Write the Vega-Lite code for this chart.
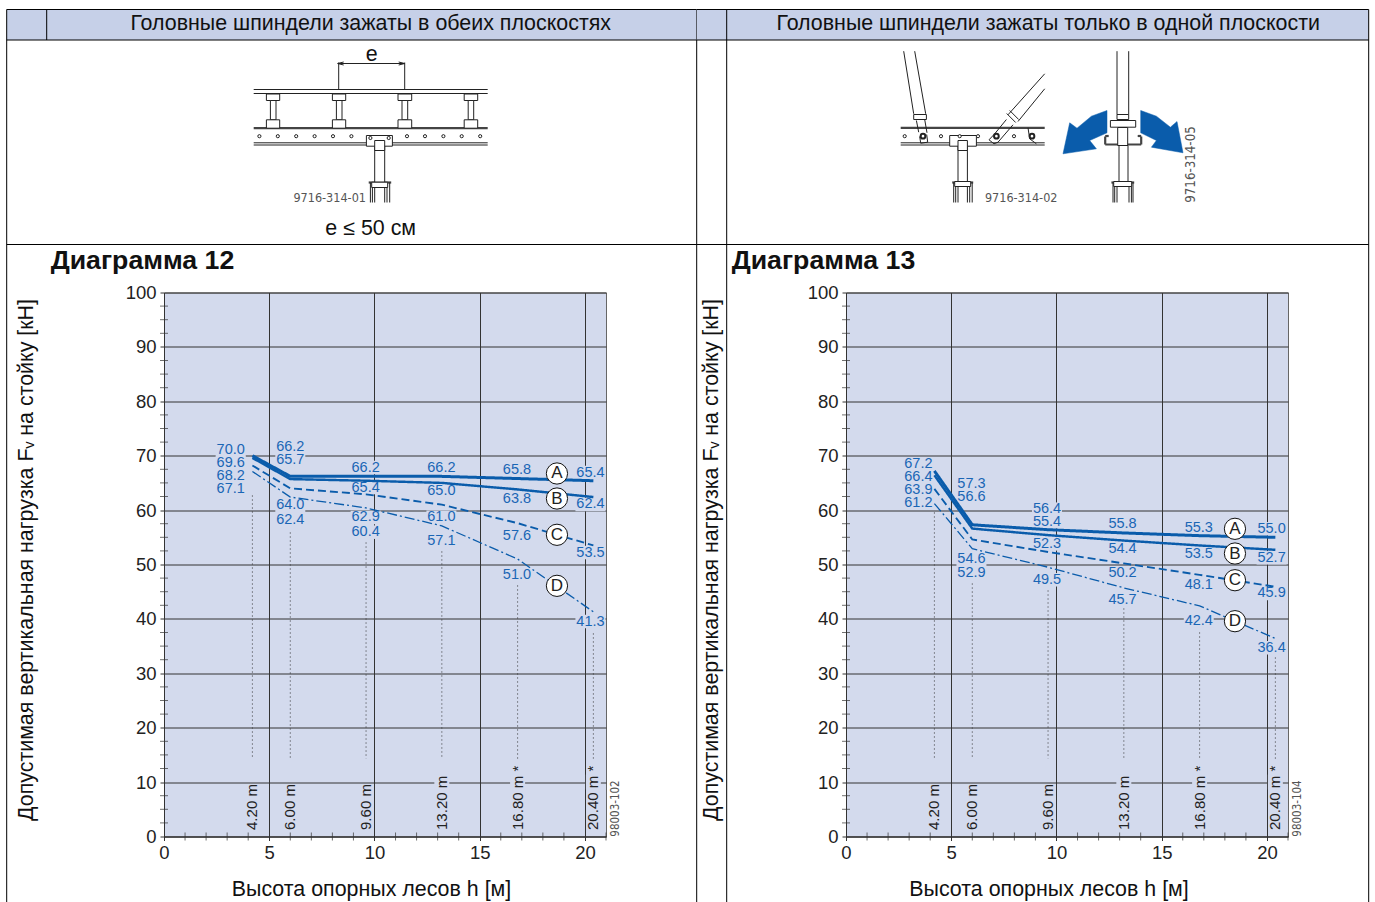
{
"$schema":"https://vega.github.io/schema/vega-lite/v6.json",
"background":"white",
"padding":{"left":5,"top":8.5,"right":0,"bottom":0},
"bounds":"flush","spacing":240,
"config":{"font":"Liberation Sans","text":{"font":"Liberation Sans"},"style":{"guide-label":{"font":"Liberation Sans"},"guide-title":{"font":"Liberation Sans"}}},
"datasets":{
"xticks":[{"h":1,"F":0},{"h":2,"F":0},{"h":3,"F":0},{"h":4,"F":0},{"h":6,"F":0},{"h":7,"F":0},{"h":8,"F":0},{"h":9,"F":0},{"h":11,"F":0},{"h":12,"F":0},{"h":13,"F":0},{"h":14,"F":0},{"h":16,"F":0},{"h":17,"F":0},{"h":18,"F":0},{"h":19,"F":0},{"h":21,"F":0}],
"yticks":[{"h":0,"F":2.5},{"h":0,"F":5},{"h":0,"F":7.5},{"h":0,"F":12.5},{"h":0,"F":15},{"h":0,"F":17.5},{"h":0,"F":22.5},{"h":0,"F":25},{"h":0,"F":27.5},{"h":0,"F":32.5},{"h":0,"F":35},{"h":0,"F":37.5},{"h":0,"F":42.5},{"h":0,"F":45},{"h":0,"F":47.5},{"h":0,"F":52.5},{"h":0,"F":55},{"h":0,"F":57.5},{"h":0,"F":62.5},{"h":0,"F":65},{"h":0,"F":67.5},{"h":0,"F":72.5},{"h":0,"F":75},{"h":0,"F":77.5},{"h":0,"F":82.5},{"h":0,"F":85},{"h":0,"F":87.5},{"h":0,"F":92.5},{"h":0,"F":95},{"h":0,"F":97.5}],
"heights":[{"h":4.2,"F":1.2,"label":"4.20 m"},{"h":6,"F":1.2,"label":"6.00 m"},{"h":9.6,"F":1.2,"label":"9.60 m"},{"h":13.2,"F":1.2,"label":"13.20 m"},{"h":16.8,"F":1.2,"label":"16.80 m\u00a0*"},{"h":20.4,"F":1.2,"label":"20.40 m\u00a0*"}],
"gaps":[{"h":13.2,"F":10},{"h":16.8,"F":10},{"h":20.4,"F":10}],
"curves12":[
{"curve":"A","h":4.2,"F":70.0},{"curve":"A","h":6,"F":66.2},{"curve":"A","h":9.6,"F":66.2},{"curve":"A","h":13.2,"F":66.2},{"curve":"A","h":16.8,"F":65.8},{"curve":"A","h":20.4,"F":65.4},
{"curve":"B","h":4.2,"F":69.6},{"curve":"B","h":6,"F":65.7},{"curve":"B","h":9.6,"F":65.4},{"curve":"B","h":13.2,"F":65.0},{"curve":"B","h":16.8,"F":63.8},{"curve":"B","h":20.4,"F":62.4},
{"curve":"C","h":4.2,"F":68.2},{"curve":"C","h":6,"F":64.0},{"curve":"C","h":9.6,"F":62.9},{"curve":"C","h":13.2,"F":61.0},{"curve":"C","h":16.8,"F":57.6},{"curve":"C","h":20.4,"F":53.5},
{"curve":"D","h":4.2,"F":67.1},{"curve":"D","h":6,"F":62.4},{"curve":"D","h":9.6,"F":60.4},{"curve":"D","h":13.2,"F":57.1},{"curve":"D","h":16.8,"F":51.0},{"curve":"D","h":20.4,"F":41.3}],
"curves13":[
{"curve":"A","h":4.2,"F":67.2},{"curve":"A","h":6,"F":57.3},{"curve":"A","h":9.6,"F":56.4},{"curve":"A","h":13.2,"F":55.8},{"curve":"A","h":16.8,"F":55.3},{"curve":"A","h":20.4,"F":55.0},
{"curve":"B","h":4.2,"F":66.4},{"curve":"B","h":6,"F":56.6},{"curve":"B","h":9.6,"F":55.4},{"curve":"B","h":13.2,"F":54.4},{"curve":"B","h":16.8,"F":53.5},{"curve":"B","h":20.4,"F":52.7},
{"curve":"C","h":4.2,"F":63.9},{"curve":"C","h":6,"F":54.6},{"curve":"C","h":9.6,"F":52.3},{"curve":"C","h":13.2,"F":50.2},{"curve":"C","h":16.8,"F":48.1},{"curve":"C","h":20.4,"F":45.9},
{"curve":"D","h":4.2,"F":61.2},{"curve":"D","h":6,"F":52.9},{"curve":"D","h":9.6,"F":49.5},{"curve":"D","h":13.2,"F":45.7},{"curve":"D","h":16.8,"F":42.4},{"curve":"D","h":20.4,"F":36.4}],
"labels12":[
{"h":3.17,"F":71.08,"label":"70.0"},{"h":3.17,"F":68.75,"label":"69.6"},{"h":3.17,"F":66.36,"label":"68.2"},{"h":3.17,"F":63.97,"label":"67.1"},
{"h":6,"F":71.69,"label":"66.2"},{"h":6,"F":69.3,"label":"65.7"},{"h":6,"F":60.85,"label":"64.0"},{"h":6,"F":58.27,"label":"62.4"},
{"h":9.58,"F":67.83,"label":"66.2"},{"h":9.58,"F":64.15,"label":"65.4"},{"h":9.58,"F":58.64,"label":"62.9"},{"h":9.58,"F":55.94,"label":"60.4"},
{"h":13.18,"F":67.83,"label":"66.2"},{"h":13.18,"F":63.42,"label":"65.0"},{"h":13.18,"F":58.69,"label":"61.0"},{"h":13.18,"F":54.41,"label":"57.1"},
{"h":16.77,"F":67.46,"label":"65.8"},{"h":16.77,"F":62.13,"label":"63.8"},{"h":16.77,"F":55.15,"label":"57.6"},{"h":16.77,"F":47.98,"label":"51.0"},
{"h":20.26,"F":66.91,"label":"65.4"},{"h":20.26,"F":61.03,"label":"62.4"},{"h":20.26,"F":52.2,"label":"53.5"},{"h":20.26,"F":39.52,"label":"41.3"}],
"labels13":[
{"h":3.44,"F":68.51,"label":"67.2"},{"h":3.44,"F":66.12,"label":"66.4"},{"h":3.44,"F":63.73,"label":"63.9"},{"h":3.44,"F":61.34,"label":"61.2"},
{"h":5.96,"F":64.83,"label":"57.3"},{"h":5.96,"F":62.44,"label":"56.6"},{"h":5.96,"F":50.92,"label":"54.6"},{"h":5.96,"F":48.47,"label":"52.9"},
{"h":9.55,"F":60.17,"label":"56.4"},{"h":9.55,"F":57.85,"label":"55.4"},{"h":9.55,"F":53.8,"label":"52.3"},{"h":9.55,"F":47.19,"label":"49.5"},
{"h":13.14,"F":57.48,"label":"55.8"},{"h":13.14,"F":52.89,"label":"54.4"},{"h":13.14,"F":48.47,"label":"50.2"},{"h":13.14,"F":43.44,"label":"45.7"},
{"h":16.76,"F":56.75,"label":"55.3"},{"h":16.76,"F":51.84,"label":"53.5"},{"h":16.76,"F":46.27,"label":"48.1"},{"h":16.76,"F":39.65,"label":"42.4"},
{"h":20.22,"F":56.56,"label":"55.0"},{"h":20.22,"F":51.23,"label":"52.7"},{"h":20.22,"F":44.67,"label":"45.9"},{"h":20.22,"F":34.69,"label":"36.4"}],
"dots12":[{"h":4.2,"F":62.68,"F2":14.3},{"h":6,"F":55.88,"F2":14.3},{"h":9.6,"F":54.04,"F2":14.3},{"h":13.2,"F":52.39,"F2":14.3},{"h":16.8,"F":46.14,"F2":14.3},{"h":20.4,"F":37.32,"F2":14.3}],
"dots13":[{"h":4.2,"F":59.56,"F2":14.3},{"h":6,"F":46.5,"F2":14.3},{"h":9.6,"F":45.22,"F2":14.3},{"h":13.2,"F":41.91,"F2":14.3},{"h":16.8,"F":37.5,"F2":14.3},{"h":20.4,"F":32.9,"F2":14.3}],
"keys12":[{"h":18.67,"F":66.73,"label":"A"},{"h":18.67,"F":62.13,"label":"B"},{"h":18.67,"F":55.46,"label":"C"},{"h":18.67,"F":46.08,"label":"D"}],
"keys13":[{"h":18.48,"F":56.56,"label":"A"},{"h":18.48,"F":52.02,"label":"B"},{"h":18.48,"F":47.11,"label":"C"},{"h":18.48,"F":39.58,"label":"D"}],
"headL":[{"sx":7,"sy":9,"sx2":697,"sy2":39.5}],
"headR":[{"sx":697,"sy":9,"sx2":1369,"sy2":39.5}],
"frameL":[{"sx":7,"sy":9,"sx2":697,"sy2":9},{"sx":7,"sy":39.5,"sx2":697,"sy2":39.5},{"sx":7,"sy":244,"sx2":697,"sy2":244},{"sx":7,"sy":9,"sx2":7,"sy2":902},{"sx":47,"sy":9,"sx2":47,"sy2":39.5},{"sx":697,"sy":9,"sx2":697,"sy2":902}],
"frameR":[{"sx":697,"sy":9,"sx2":1369,"sy2":9},{"sx":697,"sy":39.5,"sx2":1369,"sy2":39.5},{"sx":697,"sy":244,"sx2":1369,"sy2":244},{"sx":727,"sy":9,"sx2":727,"sy2":902},{"sx":1369,"sy":9,"sx2":1369,"sy2":902}],
"skL":[
{"sx":338,"sy":63,"sx2":405,"sy2":63},{"sx":339,"sy":62,"sx2":339,"sy2":89},{"sx":405,"sy":62,"sx2":405,"sy2":89},{"sx":338,"sy":63,"sx2":344,"sy2":61.5},{"sx":338,"sy":63,"sx2":344,"sy2":64.5},{"sx":405,"sy":63,"sx2":399,"sy2":61.5},{"sx":405,"sy":63,"sx2":399,"sy2":64.5},
{"sx":254,"sy":89,"sx2":488,"sy2":89},{"sx":254,"sy":93,"sx2":488,"sy2":93},{"sx":254,"sy":142.3,"sx2":488,"sy2":142.3},{"sx":254,"sy":144.5,"sx2":488,"sy2":144.5},
{"sx":370.7,"sy":182,"sx2":370.7,"sy2":202},{"sx":372.7,"sy":182,"sx2":372.7,"sy2":202},{"sx":375,"sy":182,"sx2":375,"sy2":202},{"sx":385,"sy":182,"sx2":385,"sy2":202},{"sx":387.3,"sy":182,"sx2":387.3,"sy2":202},{"sx":390,"sy":182,"sx2":390,"sy2":202}],
"thickL":[{"sx":254,"sy":127.7,"sx2":488,"sy2":127.7},{"sx":369,"sy":182,"sx2":391.5,"sy2":182}],
"rectL":[
{"sx":266.7,"sy":93.5,"sx2":280,"sy2":100},{"sx":270.7,"sy":100,"sx2":276.3,"sy2":119.3},{"sx":266.7,"sy":119.3,"sx2":280,"sy2":127.7},
{"sx":332.7,"sy":93.5,"sx2":346,"sy2":100},{"sx":336.7,"sy":100,"sx2":342.3,"sy2":119.3},{"sx":332.7,"sy":119.3,"sx2":346,"sy2":127.7},
{"sx":398.3,"sy":93.5,"sx2":412,"sy2":100},{"sx":402.3,"sy":100,"sx2":408,"sy2":119.3},{"sx":398.3,"sy":119.3,"sx2":412,"sy2":127.7},
{"sx":464.5,"sy":93.5,"sx2":478,"sy2":100},{"sx":468.5,"sy":100,"sx2":474,"sy2":119.3},{"sx":464.5,"sy":119.3,"sx2":478,"sy2":127.7},
{"sx":366.7,"sy":135,"sx2":392.7,"sy2":145.7},{"sx":375,"sy":145.7,"sx2":385,"sy2":181.7},{"sx":375,"sy":140,"sx2":385,"sy2":150},{"sx":372,"sy":181.7,"sx2":388,"sy2":187}],
"holesL":[{"sx":259.7,"sy":135.7},{"sx":278.1,"sy":135.7},{"sx":296.5,"sy":135.7},{"sx":314.9,"sy":135.7},{"sx":333.3,"sy":135.7},{"sx":351.7,"sy":135.7},{"sx":370.7,"sy":137.5},{"sx":389,"sy":137.5},{"sx":407.3,"sy":135.7},{"sx":425.3,"sy":135.7},{"sx":443.7,"sy":135.7},{"sx":462,"sy":135.7},{"sx":480.5,"sy":135.7}],
"headTextL":[{"sx":371,"sy":23.5,"label":"Головные шпиндели зажаты в обеих плоскостях"},{"sx":371,"sy":228,"label":"e ≤ 50 см"},{"sx":372,"sy":54,"label":"e"}],
"headTextR":[{"sx":1048.5,"sy":23.5,"label":"Головные шпиндели зажаты только в одной плоскости"}],
"titleL":[{"sx":51,"sy":260,"label":"Диаграмма 12"}],
"titleR":[{"sx":732,"sy":260,"label":"Диаграмма 13"}],
"idL":[{"sx":330,"sy":197,"label":"9716-314-01"}],
"idR":[{"sx":1021.5,"sy":197,"label":"9716-314-02"}],
"vidL":[{"sx":616.5,"sy":808,"label":"98003-102"}],
"vidR":[{"sx":1298,"sy":808,"label":"98003-104"}],
"vidS":[{"sx":1191,"sy":164,"label":"9716-314-05"}],
"skR":[
{"sx":904,"sy":50.7,"sx2":914,"sy2":113.3},{"sx":915,"sy":50.7,"sx2":926,"sy2":113.3},{"sx":916.7,"sy":120,"sx2":919,"sy2":131.7},{"sx":925,"sy":119,"sx2":927.3,"sy2":132.3},{"sx":920,"sy":136,"sx2":921,"sy2":142.7},{"sx":921,"sy":142.7,"sx2":928,"sy2":141.7},{"sx":928,"sy":141.7,"sx2":927,"sy2":134},
{"sx":901,"sy":142.3,"sx2":1045,"sy2":142.3},{"sx":901,"sy":144.5,"sx2":1045,"sy2":144.5},
{"sx":1045,"sy":73.3,"sx2":1008.3,"sy2":114.3},{"sx":1045,"sy":88.3,"sx2":1018.3,"sy2":121},{"sx":1006.7,"sy":119,"sx2":995,"sy2":133.3},{"sx":1013.3,"sy":124.3,"sx2":998.3,"sy2":141.7},{"sx":989.3,"sy":139.3,"sx2":994.3,"sy2":143.3},{"sx":994.3,"sy":143.3,"sx2":998.3,"sy2":141.7},{"sx":989.3,"sy":139.3,"sx2":995,"sy2":133.3},{"sx":1007,"sy":113,"sx2":1016,"sy2":122},{"sx":1010,"sy":110,"sx2":1019,"sy2":119},
{"sx":1028.3,"sy":127.3,"sx2":1030,"sy2":138.3},{"sx":1030,"sy":138.3,"sx2":1036.7,"sy2":143.3},
{"sx":954,"sy":182,"sx2":954,"sy2":202},{"sx":956,"sy":182,"sx2":956,"sy2":202},{"sx":958.3,"sy":182,"sx2":958.3,"sy2":202},{"sx":967.7,"sy":182,"sx2":967.7,"sy2":202},{"sx":970,"sy":182,"sx2":970,"sy2":202},{"sx":972.5,"sy":182,"sx2":972.5,"sy2":202},
{"sx":1117.3,"sy":50.7,"sx2":1117.3,"sy2":114},{"sx":1129,"sy":50.7,"sx2":1129,"sy2":114},
{"sx":1113.3,"sy":182,"sx2":1113.3,"sy2":202},{"sx":1115,"sy":182,"sx2":1115,"sy2":202},{"sx":1117.3,"sy":182,"sx2":1117.3,"sy2":202},{"sx":1129.3,"sy":182,"sx2":1129.3,"sy2":202},{"sx":1131.7,"sy":182,"sx2":1131.7,"sy2":202},{"sx":1133.3,"sy":182,"sx2":1133.3,"sy2":202}],
"thickR":[{"sx":901,"sy":127.3,"sx2":1045,"sy2":127.3},{"sx":952.5,"sy":182,"sx2":973.5,"sy2":182},{"sx":1111.7,"sy":182,"sx2":1134.5,"sy2":182},{"sx":1105.5,"sy":136,"sx2":1105.5,"sy2":144},{"sx":1105.5,"sy":144,"sx2":1141.5,"sy2":144},{"sx":1141.5,"sy":136,"sx2":1141.5,"sy2":144},{"sx":1109,"sy":135.5,"sx2":1105.5,"sy2":135.5},{"sx":1138,"sy":135.5,"sx2":1141.5,"sy2":135.5}],
"rectR":[
{"sx":914,"sy":114,"sx2":926.7,"sy2":119},
{"sx":950,"sy":135,"sx2":976.7,"sy2":145.7},{"sx":958.3,"sy":145.7,"sx2":967.7,"sy2":181},{"sx":958.3,"sy":140,"sx2":967.7,"sy2":150},{"sx":955,"sy":181,"sx2":971,"sy2":186},
{"sx":1117.3,"sy":114,"sx2":1129,"sy2":119},{"sx":1110.7,"sy":120,"sx2":1136,"sy2":126.7},{"sx":1118,"sy":127,"sx2":1128,"sy2":145},{"sx":1119.3,"sy":145,"sx2":1128.3,"sy2":181},{"sx":1114,"sy":181,"sx2":1132,"sy2":186}],
"holesR":[{"sx":905,"sy":135.7},{"sx":941.3,"sy":135.7},{"sx":960,"sy":135.7},{"sx":978.3,"sy":135.7},{"sx":1014.3,"sy":135.7}],
"bigHolesR":[{"sx":923.3,"sy":135.7},{"sx":996.7,"sy":135.7},{"sx":1032.3,"sy":135.7}],
"arrowsR":[
{"a":"L","i":1,"sx":1107.3,"sy":110},{"a":"L","i":2,"sx":1091.7,"sy":115.7},{"a":"L","i":3,"sx":1077.3,"sy":127.7},{"a":"L","i":4,"sx":1070,"sy":122.3},{"a":"L","i":5,"sx":1063.3,"sy":153.3},{"a":"L","i":6,"sx":1096.7,"sy":148.3},{"a":"L","i":7,"sx":1090,"sy":140},{"a":"L","i":8,"sx":1107.3,"sy":132.3},{"a":"L","i":9,"sx":1107.3,"sy":110},
{"a":"R","i":1,"sx":1141,"sy":110},{"a":"R","i":2,"sx":1156.7,"sy":115.7},{"a":"R","i":3,"sx":1170.7,"sy":126.7},{"a":"R","i":4,"sx":1177.3,"sy":121},{"a":"R","i":5,"sx":1183.3,"sy":152.3},{"a":"R","i":6,"sx":1151.7,"sy":146.7},{"a":"R","i":7,"sx":1156.7,"sy":140},{"a":"R","i":8,"sx":1141,"sy":132.3},{"a":"R","i":9,"sx":1141,"sy":110}]
},
"hconcat":[
{"width":442,"height":544,"view":{"fill":"#d3daed","stroke":"#666666"},
"resolve":{"scale":{"x":"independent","y":"independent"}},
"layer":[
{"encoding":{
"x":{"field":"h","type":"quantitative","scale":{"domain":[0,21],"nice":false,"zero":false},"axis":{"values":[0,5,10,15,20],"grid":true,"gridColor":"#333333","gridWidth":1,"domainColor":"#333333","tickColor":"#333333","tickSize":4,"labelFontSize":18.5,"labelColor":"#222222","labelPadding":3,"labelFlush":false,"labelOverlap":false,"title":"Высота опорных лесов h [м]","titleFontSize":21.4,"titleFontWeight":"normal","titleColor":"#111111","titleX":207,"titleY":53,"titleBaseline":"middle"}},
"y":{"field":"F","type":"quantitative","scale":{"domain":[0,100],"nice":false,"zero":false},"axis":{"values":[0,10,20,30,40,50,60,70,80,90,100],"grid":true,"gridColor":"#333333","gridWidth":1,"domainColor":"#333333","tickColor":"#333333","tickSize":4,"labelFontSize":18.5,"labelColor":"#222222","labelPadding":4,"labelOverlap":false,"labelFlush":false,"title":"Допустимая вертикальная нагрузка Fᵥ на стойку [кН]","titleFontSize":21.4,"titleFontWeight":"normal","titleColor":"#111111","titleX":-138,"titleY":267,"titleBaseline":"middle","titleAngle":-90}}},
"layer":[
{"data":{"name":"xticks"},"mark":{"type":"tick","orient":"vertical","size":8,"thickness":1,"color":"#333333"}},
{"data":{"name":"yticks"},"mark":{"type":"tick","orient":"horizontal","size":8,"thickness":1,"color":"#333333"}},
{"data":{"name":"dots12"},"mark":{"type":"rule","color":"#333333","strokeWidth":1,"strokeDash":[1,3]},"encoding":{"y2":{"field":"F2"}}},
{"data":{"name":"labels12"},"mark":{"type":"point","shape":"M-1,-0.45H1V0.45H-1Z","filled":true,"fill":"#d3daed","stroke":null,"size":900,"opacity":1}},
{"data":{"name":"gaps"},"mark":{"type":"point","shape":"square","filled":true,"fill":"#d3daed","stroke":null,"size":225,"opacity":1}},
{"data":{"name":"curves12"},"mark":{"type":"line","color":"#0a5cab"},"encoding":{"detail":{"field":"curve"},"strokeWidth":{"field":"curve","scale":{"domain":["A","B","C","D"],"range":[3,1.3,1.2,1.1]},"legend":null},"strokeDash":{"field":"curve","scale":{"domain":["A","B","C","D"],"range":[[1,0],[1,0],[8,4],[10,3,2,3]]},"legend":null}}},
{"data":{"name":"labels12"},"mark":{"type":"text","fontSize":14.5,"color":"#1a66b5","baseline":"middle"},"encoding":{"text":{"field":"label"}}},
{"data":{"name":"heights"},"mark":{"type":"text","fontSize":15,"angle":270,"align":"left","baseline":"middle","color":"#222222"},"encoding":{"text":{"field":"label"}}},
{"data":{"name":"keys12"},"mark":{"type":"point","shape":"circle","filled":true,"fill":"white","stroke":"#111111","strokeWidth":1,"size":452,"opacity":1}},
{"data":{"name":"keys12"},"mark":{"type":"text","fontSize":17,"color":"#222222","baseline":"middle"},"encoding":{"text":{"field":"label"}}}
]},
{"encoding":{
"x":{"field":"sx","type":"quantitative","scale":{"domain":[0,1375],"range":[-164.3,1210.7],"nice":false,"zero":false},"axis":null},
"y":{"field":"sy","type":"quantitative","scale":{"domain":[0,902],"range":[-292,610],"nice":false,"zero":false},"axis":null}},
"layer":[
{"data":{"name":"headL"},"mark":{"type":"rect","fill":"#c6d0e8"},"encoding":{"x2":{"field":"sx2"},"y2":{"field":"sy2"}}},
{"data":{"name":"frameL"},"mark":{"type":"rule","color":"#000000","strokeWidth":1},"encoding":{"x2":{"field":"sx2"},"y2":{"field":"sy2"}}},
{"data":{"name":"thickL"},"mark":{"type":"rule","color":"#444444","strokeWidth":2.2},"encoding":{"x2":{"field":"sx2"},"y2":{"field":"sy2"}}},
{"data":{"name":"skL"},"mark":{"type":"rule","color":"#222222","strokeWidth":1},"encoding":{"x2":{"field":"sx2"},"y2":{"field":"sy2"}}},
{"data":{"name":"rectL"},"mark":{"type":"rect","fill":"white","stroke":"#222222","strokeWidth":1},"encoding":{"x2":{"field":"sx2"},"y2":{"field":"sy2"}}},
{"data":{"name":"holesL"},"mark":{"type":"point","shape":"circle","fill":"white","stroke":"#222222","strokeWidth":1,"size":10,"opacity":1}},
{"data":{"name":"headTextL"},"mark":{"type":"text","fontSize":21.4,"color":"#111111","baseline":"middle"},"encoding":{"text":{"field":"label"}}},
{"data":{"name":"titleL"},"mark":{"type":"text","fontSize":26.7,"fontWeight":"bold","color":"#111111","align":"left","baseline":"middle"},"encoding":{"text":{"field":"label"}}},
{"data":{"name":"idL"},"mark":{"type":"text","fontSize":12.5,"font":"DejaVu Sans Condensed, Liberation Sans","color":"#555555","baseline":"middle"},"encoding":{"text":{"field":"label"}}},
{"data":{"name":"vidL"},"mark":{"type":"text","fontSize":11.5,"font":"DejaVu Sans Condensed, Liberation Sans","color":"#555555","angle":270,"baseline":"middle"},"encoding":{"text":{"field":"label"}}}
]}
]},
{"width":442,"height":544,"view":{"fill":"#d3daed","stroke":"#666666"},
"resolve":{"scale":{"x":"independent","y":"independent"}},
"layer":[
{"encoding":{
"x":{"field":"h","type":"quantitative","scale":{"domain":[0,21],"nice":false,"zero":false},"axis":{"values":[0,5,10,15,20],"grid":true,"gridColor":"#333333","gridWidth":1,"domainColor":"#333333","tickColor":"#333333","tickSize":4,"labelFontSize":18.5,"labelColor":"#222222","labelPadding":3,"labelFlush":false,"labelOverlap":false,"title":"Высота опорных лесов h [м]","titleFontSize":21.4,"titleFontWeight":"normal","titleColor":"#111111","titleX":202.5,"titleY":53,"titleBaseline":"middle"}},
"y":{"field":"F","type":"quantitative","scale":{"domain":[0,100],"nice":false,"zero":false},"axis":{"values":[0,10,20,30,40,50,60,70,80,90,100],"grid":true,"gridColor":"#333333","gridWidth":1,"domainColor":"#333333","tickColor":"#333333","tickSize":4,"labelFontSize":18.5,"labelColor":"#222222","labelPadding":4,"labelOverlap":false,"labelFlush":false,"title":"Допустимая вертикальная нагрузка Fᵥ на стойку [кН]","titleFontSize":21.4,"titleFontWeight":"normal","titleColor":"#111111","titleX":-135,"titleY":267,"titleBaseline":"middle","titleAngle":-90}}},
"layer":[
{"data":{"name":"xticks"},"mark":{"type":"tick","orient":"vertical","size":8,"thickness":1,"color":"#333333"}},
{"data":{"name":"yticks"},"mark":{"type":"tick","orient":"horizontal","size":8,"thickness":1,"color":"#333333"}},
{"data":{"name":"dots13"},"mark":{"type":"rule","color":"#333333","strokeWidth":1,"strokeDash":[1,3]},"encoding":{"y2":{"field":"F2"}}},
{"data":{"name":"labels13"},"mark":{"type":"point","shape":"M-1,-0.45H1V0.45H-1Z","filled":true,"fill":"#d3daed","stroke":null,"size":900,"opacity":1}},
{"data":{"name":"gaps"},"mark":{"type":"point","shape":"square","filled":true,"fill":"#d3daed","stroke":null,"size":225,"opacity":1}},
{"data":{"name":"curves13"},"mark":{"type":"line","color":"#0a5cab"},"encoding":{"detail":{"field":"curve"},"strokeWidth":{"field":"curve","scale":{"domain":["A","B","C","D"],"range":[3,1.3,1.2,1.1]},"legend":null},"strokeDash":{"field":"curve","scale":{"domain":["A","B","C","D"],"range":[[1,0],[1,0],[8,4],[10,3,2,3]]},"legend":null}}},
{"data":{"name":"labels13"},"mark":{"type":"text","fontSize":14.5,"color":"#1a66b5","baseline":"middle"},"encoding":{"text":{"field":"label"}}},
{"data":{"name":"heights"},"mark":{"type":"text","fontSize":15,"angle":270,"align":"left","baseline":"middle","color":"#222222"},"encoding":{"text":{"field":"label"}}},
{"data":{"name":"keys13"},"mark":{"type":"point","shape":"circle","filled":true,"fill":"white","stroke":"#111111","strokeWidth":1,"size":452,"opacity":1}},
{"data":{"name":"keys13"},"mark":{"type":"text","fontSize":17,"color":"#222222","baseline":"middle"},"encoding":{"text":{"field":"label"}}}
]},
{"encoding":{
"x":{"field":"sx","type":"quantitative","scale":{"domain":[0,1375],"range":[-846.3,528.7],"nice":false,"zero":false},"axis":null},
"y":{"field":"sy","type":"quantitative","scale":{"domain":[0,902],"range":[-292,610],"nice":false,"zero":false},"axis":null}},
"layer":[
{"data":{"name":"headR"},"mark":{"type":"rect","fill":"#c6d0e8"},"encoding":{"x2":{"field":"sx2"},"y2":{"field":"sy2"}}},
{"data":{"name":"frameR"},"mark":{"type":"rule","color":"#000000","strokeWidth":1},"encoding":{"x2":{"field":"sx2"},"y2":{"field":"sy2"}}},
{"data":{"name":"thickR"},"mark":{"type":"rule","color":"#444444","strokeWidth":2.2},"encoding":{"x2":{"field":"sx2"},"y2":{"field":"sy2"}}},
{"data":{"name":"skR"},"mark":{"type":"rule","color":"#222222","strokeWidth":1},"encoding":{"x2":{"field":"sx2"},"y2":{"field":"sy2"}}},
{"data":{"name":"rectR"},"mark":{"type":"rect","fill":"white","stroke":"#222222","strokeWidth":1},"encoding":{"x2":{"field":"sx2"},"y2":{"field":"sy2"}}},
{"data":{"name":"holesR"},"mark":{"type":"point","shape":"circle","fill":"white","stroke":"#222222","strokeWidth":1,"size":10,"opacity":1}},
{"data":{"name":"bigHolesR"},"mark":{"type":"point","shape":"circle","fill":"white","stroke":"#222222","strokeWidth":2,"size":22,"opacity":1}},
{"data":{"name":"arrowsR"},"mark":{"type":"line","color":"#0a5cab","fill":"#0a5cab","strokeWidth":0.5},"encoding":{"detail":{"field":"a"},"order":{"field":"i"}}},
{"data":{"name":"headTextR"},"mark":{"type":"text","fontSize":21.4,"color":"#111111","baseline":"middle"},"encoding":{"text":{"field":"label"}}},
{"data":{"name":"titleR"},"mark":{"type":"text","fontSize":26.7,"fontWeight":"bold","color":"#111111","align":"left","baseline":"middle"},"encoding":{"text":{"field":"label"}}},
{"data":{"name":"idR"},"mark":{"type":"text","fontSize":12.5,"font":"DejaVu Sans Condensed, Liberation Sans","color":"#555555","baseline":"middle"},"encoding":{"text":{"field":"label"}}},
{"data":{"name":"vidR"},"mark":{"type":"text","fontSize":11.5,"font":"DejaVu Sans Condensed, Liberation Sans","color":"#555555","angle":270,"baseline":"middle"},"encoding":{"text":{"field":"label"}}},
{"data":{"name":"vidS"},"mark":{"type":"text","fontSize":13.2,"font":"DejaVu Sans Condensed, Liberation Sans","color":"#555555","angle":270,"baseline":"middle"},"encoding":{"text":{"field":"label"}}}
]}
]}
]
}
